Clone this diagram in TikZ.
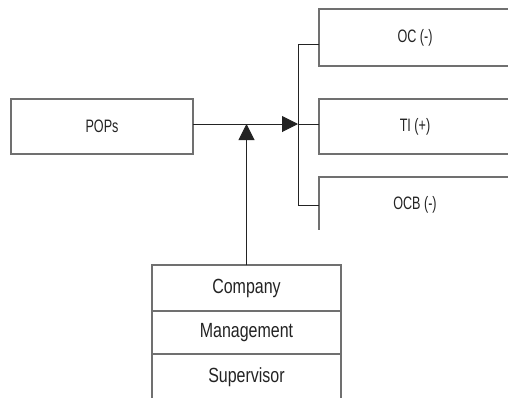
\documentclass[tikz,border=0pt]{standalone}
\usepackage{fontspec}
\setmainfont{Liberation Sans}[FakeStretch=0.78]
\newfontfamily\narrowfont{Liberation Sans}[FakeStretch=0.7]
\usetikzlibrary{arrows.meta,positioning}
\definecolor{BoxGray}{RGB}{112,112,112}
\definecolor{LineBlack}{RGB}{35,35,35}
\definecolor{TextBlack}{RGB}{35,35,35}

\begin{document}
\begin{tikzpicture}[x=1pt, y=-1pt,
		box/.style={draw=BoxGray, line width=1.3pt, inner sep=0pt, outer sep=0pt,
			text=TextBlack, font=\narrowfont\fontsize{18}{21}\selectfont},
		effect/.style={box, anchor=west, minimum width=192pt},
		level/.style={box, minimum width=189pt, minimum height=43pt,
			font=\normalfont\fontsize{20.5}{24}\selectfont},
		link/.style={draw=LineBlack, line width=1pt},
		tip/.style={-{Triangle[length=16pt,width=16pt]}}]
	\clip (0,0) rectangle (508,397);
	% left box
	\node[box, minimum width=182pt, minimum height=55pt] (pops) at (102,126.5) {POPs};
	% outcome boxes, cut at the right and below as in the source
	\begin{scope}
		\clip (0,0) rectangle (508,229);
		\node[effect, minimum height=57pt] (oc) at (319,37.5) {OC (-)};
		\node[effect, minimum height=55pt] (ti) at (319,126.5) {TI (+)};
		\node[effect, minimum height=56pt] (ocb) at (319,205) {OCB (-)};
	\end{scope}
	% stacked levels
	\node[level, minimum height=46pt] (company) at (246.5,288) {Company};
	\node[level, below=0pt of company] (management) {Management};
	\node[level, below=0pt of management, minimum height=46pt] (supervisor) {Supervisor};
	% connectors
	\coordinate (hub) at (298,124);
	\draw[link] ([yshift=-6.5pt]oc.west) -- ++(-21,0) |- (ocb.west);
	\draw[link] (hub) -- (hub -| ti.west);
	\draw[link, tip] (pops.east |- hub) -- (hub);
	\draw[link, tip] (company.north) -- (company.north |- hub);
\end{tikzpicture}
\end{document}
